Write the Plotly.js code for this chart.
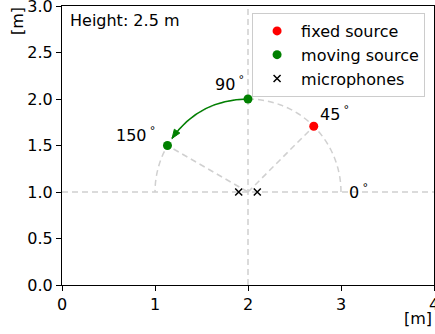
<!DOCTYPE html>
<html>
<head>
<meta charset="utf-8">
<script src="https://cdn.plot.ly/plotly-3.0.1.min.js"></script>
<style>html,body{margin:0;padding:0;background:#fff;}#chart{width:435px;height:334px;}</style>
</head>
<body>
<div id="chart"></div>
<script>
// ---- data ----
const center = [2, 1];
const radius = 1;
const fixedAngles = [45];
const movingAngles = [90, 150];
const labelAngles = [0, 45, 90, 150];
const micX = [1.9, 2.1];
const micY = [1, 1];
const xTicks = [0, 1, 2, 3, 4];
const yTicks = [0, 0.5, 1, 1.5, 2, 2.5, 3];
const heightText = 'Height: 2.5 m';
const seriesNames = ['fixed source', 'moving source', 'microphones'];

const FONT = 'DejaVu Sans, sans-serif';
const FS = 16;
const GRAY = '#d0d0d0';
const GREEN = '#008000';

function pt(a) {
  const r = a * Math.PI / 180;
  return [center[0] + radius * Math.cos(r), center[1] + radius * Math.sin(r)];
}
const fixedPts = fixedAngles.map(pt);
const movingPts = movingAngles.map(pt);

const shapes = [];
const dash = {color: GRAY, width: 1.5, dash: '6px,4px'};
shapes.push({type: 'line', xref: 'x', yref: 'y', x0: 0, x1: 4, y0: center[1], y1: center[1], line: dash, layer: 'below'});
shapes.push({type: 'line', xref: 'x', yref: 'y', x0: center[0], x1: center[0], y0: 0, y1: 3, line: dash, layer: 'below'});
let arc = '';
for (let a = 0; a <= 180; a += 3) {
  const p = pt(a);
  arc += (a === 0 ? 'M ' : ' L ') + p[0].toFixed(4) + ' ' + p[1].toFixed(4);
}
shapes.push({type: 'path', xref: 'x', yref: 'y', path: arc, line: dash, layer: 'below'});
[fixedAngles[0], movingAngles[1]].forEach(a => {
  const p = pt(a);
  shapes.push({type: 'line', xref: 'x', yref: 'y', x0: center[0], y0: center[1], x1: p[0], y1: p[1], line: dash, layer: 'below'});
});

(function () {
  const P0 = movingPts[0], P2 = movingPts[1];
  const f = 0.28;
  const dx = P2[0] - P0[0], dy = P2[1] - P0[1];
  const C = [(P0[0] + P2[0]) / 2 + f * dy, (P0[1] + P2[1]) / 2 - f * dx];
  const B = t => [
    (1 - t) * (1 - t) * P0[0] + 2 * (1 - t) * t * C[0] + t * t * P2[0],
    (1 - t) * (1 - t) * P0[1] + 2 * (1 - t) * t * C[1] + t * t * P2[1]
  ];
  const shrink = 0.09;
  let te = 1;
  while (te > 0) {
    const b = B(te);
    if (Math.hypot(b[0] - P2[0], b[1] - P2[1]) >= shrink) break;
    te -= 0.001;
  }
  const tip = B(te);
  const d = [2 * (1 - te) * (C[0] - P0[0]) + 2 * te * (P2[0] - C[0]),
             2 * (1 - te) * (C[1] - P0[1]) + 2 * te * (P2[1] - C[1])];
  const L = Math.hypot(d[0], d[1]);
  const u = [d[0] / L, d[1] / L];
  const n = [-u[1], u[0]];
  const hl = 0.095, hw = 0.036;
  const base = [tip[0] - hl * u[0], tip[1] - hl * u[1]];
  const C1 = [P0[0] + te * (C[0] - P0[0]), P0[1] + te * (C[1] - P0[1])];
  shapes.push({type: 'path', xref: 'x', yref: 'y', layer: 'below',
    path: `M ${P0[0]} ${P0[1]} Q ${C1[0]} ${C1[1]} ${tip[0]} ${tip[1]}`,
    line: {color: GREEN, width: 1.5}});
  shapes.push({type: 'path', xref: 'x', yref: 'y', layer: 'below',
    path: `M ${tip[0]} ${tip[1]} L ${base[0] + hw * n[0]} ${base[1] + hw * n[1]} L ${base[0] - hw * n[0]} ${base[1] - hw * n[1]} Z`,
    fillcolor: GREEN, line: {color: GREEN, width: 1}});
})();

const traces = [
  {x: fixedPts.map(p => p[0]), y: fixedPts.map(p => p[1]), mode: 'markers', name: seriesNames[0],
   legendgroup: 'a', marker: {color: 'red', size: 9}},
  {x: movingPts.map(p => p[0]), y: movingPts.map(p => p[1]), mode: 'markers', name: seriesNames[1],
   legendgroup: 'b', marker: {color: GREEN, size: 9}},
  {x: micX, y: micY, mode: 'markers', name: seriesNames[2], legendgroup: 'c',
   marker: {symbol: 'x-thin', color: 'black', size: 7, line: {color: 'black', width: 1.5}}}
];

const labelPos = {0: [3.19, 1.01], 45: [2.925, 1.849], 90: [1.796, 2.172], 150: [0.785, 1.613]};
const annotations = labelAngles.map(a => ({
  xref: 'x', yref: 'y', x: labelPos[a][0], y: labelPos[a][1],
  text: a + '\u2009<sup>°</sup>', showarrow: false, xanchor: 'center', yanchor: 'middle',
  font: {family: FONT, size: FS, color: 'black'}
}));
annotations.push({xref: 'paper', yref: 'paper', x: 0, y: 1, xshift: 6, yshift: -14,
  xanchor: 'left', yanchor: 'middle', text: heightText, showarrow: false,
  font: {family: FONT, size: FS, color: 'black'}});
annotations.push({xref: 'paper', yref: 'paper', x: 0, y: 1, xshift: -45, yshift: 1,
  xanchor: 'center', yanchor: 'top', textangle: -90, text: '[m]', showarrow: false,
  font: {family: FONT, size: FS, color: 'black'}});
annotations.push({xref: 'paper', yref: 'paper', x: 1, y: 0, xshift: 0, yshift: -33,
  xanchor: 'right', yanchor: 'middle', text: '[m]', showarrow: false,
  font: {family: FONT, size: FS, color: 'black'}});

const axisCommon = {showgrid: false, zeroline: false, showline: true, mirror: true,
  linecolor: 'black', linewidth: 1, ticks: 'outside', ticklen: 5, tickwidth: 1, tickcolor: 'black',
  tickfont: {family: FONT, size: FS, color: 'black'}, fixedrange: true, ticklabeloverflow: 'allow'};

const layout = {
  width: 435, height: 334,
  margin: {l: 62, r: 1, t: 6, b: 49, pad: 0},
  paper_bgcolor: 'white', plot_bgcolor: 'white',
  font: {family: FONT, size: FS, color: 'black'},
  xaxis: Object.assign({}, axisCommon, {range: [0, 4], tickvals: xTicks, ticktext: xTicks.map(String)}),
  yaxis: Object.assign({}, axisCommon, {range: [0, 3], tickvals: yTicks, ticktext: yTicks.map(v => v.toFixed(1))}),
  showlegend: true,
  legend: {x: 0.976, y: 0.975, xanchor: 'right', yanchor: 'top',
    bgcolor: 'rgba(255,255,255,0.8)', bordercolor: '#cccccc', borderwidth: 1,
    font: {family: FONT, size: FS, color: 'black'}, traceorder: 'grouped', tracegroupgap: 0, itemwidth: 38},
  shapes: shapes,
  annotations: annotations
};

Plotly.newPlot('chart', traces, layout, {staticPlot: true, displayModeBar: false});
</script>
</body>
</html>
